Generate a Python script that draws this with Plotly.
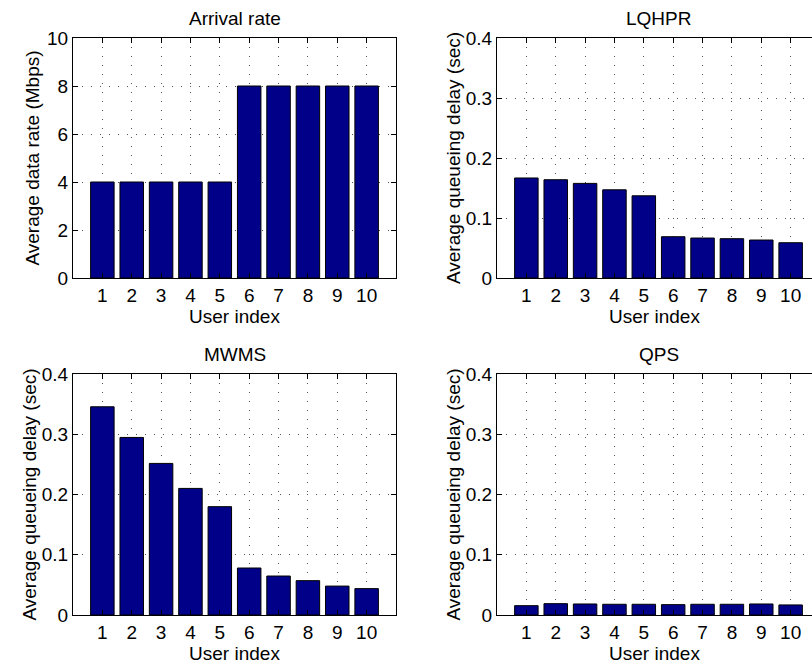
import plotly.graph_objects as go

# Per-user data
users = list(range(1, 11))
arrival_rate = [4, 4, 4, 4, 4, 8, 8, 8, 8, 8]
delay_lqhpr = [0.1667, 0.1638, 0.1577, 0.147, 0.137, 0.0688, 0.0666, 0.0655, 0.0633, 0.0588]
delay_mwms = [0.3456, 0.2947, 0.2516, 0.2101, 0.1798, 0.078, 0.0647, 0.057, 0.048, 0.0438]
delay_qps = [0.0155, 0.0188, 0.0183, 0.0178, 0.0178, 0.0172, 0.0178, 0.0178, 0.0183, 0.0167]

titles = ["Arrival rate", "LQHPR", "MWMS", "QPS"]
series = [arrival_rate, delay_lqhpr, delay_mwms, delay_qps]
ylabels = ["Average data rate (Mbps)"] + ["Average queueing delay (sec)"] * 3
yticks_rate = [0, 2, 4, 6, 8, 10]
yticks_delay = [0, 0.1, 0.2, 0.3, 0.4]

W, H = 812, 672
FONT = "Liberation Sans, Arial, sans-serif"
FS = 19
BAR_COLOR = "#000088"

# panel pixel boxes: (left, right, top, bottom)
boxes = [(73, 396, 38, 278), (497, 820, 38, 278), (73, 396, 374, 615), (497, 820, 374, 615)]

fig = go.Figure()
layout = dict(
    width=W, height=H,
    margin=dict(l=0, r=0, t=0, b=0),
    paper_bgcolor="white", plot_bgcolor="white",
    font=dict(family=FONT, size=FS, color="black"),
    showlegend=False,
    annotations=[],
)

for i, (title, vals, ylab, box) in enumerate(zip(titles, series, ylabels, boxes)):
    n = "" if i == 0 else str(i + 1)
    left, right, top, bottom = box
    px_per_unit = (right - left) / 11.0
    on_right = right > W
    x_hi = (W - left) / px_per_unit if on_right else 11.0
    dom_right = 1.0 if on_right else right / W

    fig.add_trace(go.Bar(
        x=users, y=vals, xaxis="x" + n, yaxis="y" + n,
        marker=dict(color=BAR_COLOR, line=dict(color="black", width=1)),
        width=0.8,
    ))

    grid = dict(showgrid=True, gridcolor="#555555", gridwidth=1, griddash="1px,8px")
    layout["xaxis" + n] = dict(
        domain=[left / W, dom_right], range=[0, x_hi],
        anchor="y" + n, tickmode="array", tickvals=users,
        ticks="inside", ticklen=5, tickcolor="black",
        showline=True, linecolor="black", linewidth=1, mirror="ticks",
        zeroline=False, tickfont=dict(size=FS), automargin=False,
        title=dict(text="User index", font=dict(size=FS), standoff=2),
        **grid,
    )
    ticks = yticks_rate if i == 0 else yticks_delay
    layout["yaxis" + n] = dict(
        domain=[1 - bottom / H, 1 - top / H],
        range=[0, ticks[-1]], anchor="x" + n,
        tickmode="array", tickvals=ticks, ticktext=[f"{t:g}" for t in ticks],
        ticks="inside", ticklen=5, tickcolor="black",
        showline=True, linecolor="black", linewidth=1,
        mirror=False if on_right else "ticks",
        zeroline=False, tickfont=dict(size=FS), automargin=False,
        title=dict(text=ylab, font=dict(size=FS), standoff=2 if i == 0 else 0),
        **grid,
    )
    layout["annotations"].append(dict(
        text=title, xref="paper", yref="paper",
        x=(left + right) / 2 / W,
        y=1 - (top - 7) / H, xanchor="center", yanchor="bottom",
        showarrow=False, font=dict(size=FS),
    ))

fig.update_layout(**layout)
fig.write_html("out.html")
